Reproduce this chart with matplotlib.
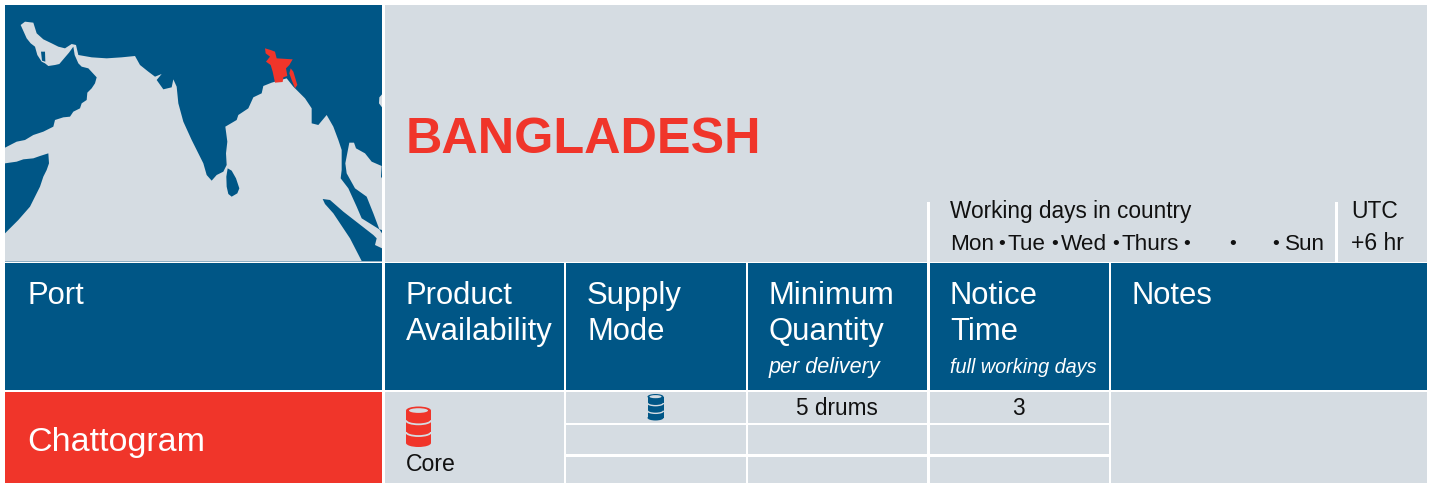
import matplotlib
matplotlib.use("Agg")
import matplotlib.pyplot as plt
from matplotlib.patches import Rectangle, Polygon, Ellipse, Arc

plt.rcParams['font.family'] = ['Liberation Sans', 'DejaVu Sans']

BLUE = '#005686'
LIGHT = '#d5dce2'
RED = '#f0352a'
INK = '#111111'

country = 'BANGLADESH'
port_header = 'Port'
headers = ['Product\nAvailability', 'Supply\nMode', 'Minimum\nQuantity', 'Notice\nTime', 'Notes']
sub_headers = ['', '', 'per delivery', 'full working days', '']
port = 'Chattogram'
product = 'Core'
min_qty = '5 drums'
notice = '3'
working_title = 'Working days in country'
working_days = ['Mon', 'Tue', 'Wed', 'Thurs', '', '', 'Sun']
utc = ['UTC', '+6 hr']

# map outlines (pixels x3)
ocean = [(15,700),(55,660),(90,620),(105,590),(120,560),(130,530),(140,510),(147,490),(145,460),(120,468),(100,475),(70,478),(50,485),(15,490),(15,443),
         (50,425),(75,420),(100,405),(130,395),(160,380),(165,360),(190,352),(210,350),(220,335),(240,325),(245,310),(260,300),(262,278),(275,265),(285,250),(290,232),
         (265,205),(245,200),(235,190),(224,165),(220,140),(207,158),(195,172),(178,192),(165,195),(145,198),(135,190),(125,185),(112,165),(105,140),(92,130),(80,115),(62,75),
         (75,65),(100,68),(110,100),(130,118),(155,130),(175,140),(195,145),(215,132),(228,135),(235,165),(275,172),(320,175),(365,172),(405,168),
         (420,195),(445,215),(465,230),(485,222),(470,240),(490,268),(515,262),(520,238),(530,260),(535,310),
         (550,365),(575,420),(590,450),(610,490),(620,525),(635,542),(650,525),(670,515),(680,495),(678,460),(682,425),
         (676,380),(710,360),(715,345),(745,325),(760,292),(785,280),(790,258),(815,248),(860,235),(880,260),
         (915,295),(935,325),(935,370),(955,375),(980,345),(1000,380),(1015,420),(1025,450),(1025,510),(1022,535),(1045,565),
         (1070,620),(1085,655),(1138,688),(1146,700),(1146,785),(15,785)]
gulf_east = [(1048,428),(1062,428),(1068,445),(1095,460),(1115,485),(1145,498),(1143,530),(1146,535),(1146,690),
             (1138,688),(1120,640),(1100,590),(1065,565),(1040,520),(1036,490)]
sri_lanka = [(683,505),(695,512),(708,535),(718,565),(712,580),(695,590),(685,582),(680,560),(679,530)]
qatar = [(123,155),(135,155),(136,185),(126,182)]
sumatra = [(968,597),(990,600),(1030,635),(1075,670),(1120,705),(1130,715),(1125,735),(1146,745),(1146,783),
           (1085,783),(1050,715),(1000,640),(975,612)]
east_edge = [(1146,283),(1138,292),(1137,310),(1146,322)]
bangladesh = [(795,145),(812,150),(825,155),(830,175),(878,178),(868,195),(858,205),(862,228),(850,232),(848,246),
              (825,248),(818,215),(812,195),(798,185),(810,170),(797,160)]
chittagong = [(872,205),(880,215),(892,255),(885,265),(875,240),(868,220)]

fig = plt.figure(figsize=(14.32, 4.83), dpi=100, facecolor='white')
ax = fig.add_axes([0, 0, 1, 1])
ax.set_xlim(0, 1432)
ax.set_ylim(483, 0)
ax.axis('off')


def box(x0, y0, x1, y1, c, z=1):
    ax.add_patch(Rectangle((x0, y0), x1 - x0, y1 - y0, fc=c, ec='none', zorder=z))


def shape(pts, c, z=3):
    ax.add_patch(Polygon([(x / 3, y / 3) for x, y in pts], closed=True, fc=c, ec='none', zorder=z))


def barrel(x0, y0, x1, y1, c, lw):
    w, h = x1 - x0, y1 - y0
    cx = (x0 + x1) / 2
    e = h * 0.2
    box(x0, y0 + e / 2, x1, y1 - e / 2, c, 3)
    ax.add_patch(Ellipse((cx, y0 + e / 2), w, e, fc=c, ec='none', zorder=3))
    ax.add_patch(Ellipse((cx, y1 - e / 2), w, e, fc=c, ec='none', zorder=3))
    ax.add_patch(Ellipse((cx, y0 + e / 2), w * 0.76, e * 0.58, fc=LIGHT, ec='none', zorder=4))
    for f in (0.34, 0.63):
        ax.add_patch(Arc((cx, y0 + h * f), w, h * 0.2, theta1=0, theta2=180, color=LIGHT, lw=lw, zorder=4))


def label(x, y, s, c=INK, size=16.3, **kw):
    ax.text(x, y, s, color=c, fontsize=size, va='baseline', ha=kw.pop('ha', 'left'), zorder=6, **kw)


# top band
box(5, 5, 382, 262, BLUE)
box(385, 5, 1427, 262, LIGHT)
# header row
for x0, x1 in [(5, 382), (385, 563.5), (566, 745.5), (748, 926.5), (929.5, 1108.5), (1111, 1427)]:
    box(x0, 263, x1, 390, BLUE)
# body
box(5, 392, 382, 483, RED)
box(385, 392, 563.5, 483, LIGHT)
box(1111, 392, 1427, 483, LIGHT)
for x0, x1 in [(566, 745.5), (748, 926.5), (929.5, 1108.5)]:
    for y0, y1 in [(392, 422.5), (425, 454), (457, 483)]:
        box(x0, y0, x1, y1, LIGHT)
# white separators in the band
box(926.5, 202, 929.5, 262, 'white', 2)
box(1335, 202, 1338, 262, 'white', 2)

# map
shape(ocean, LIGHT)
shape(gulf_east, LIGHT)
for s in (sri_lanka, qatar, sumatra):
    shape(s, BLUE, 4)
shape(east_edge, LIGHT, 4)
shape(bangladesh, RED, 5)
shape(chittagong, RED, 5)

# text
label(406, 153, country, RED, 36.3, fontweight='bold')
label(28, 304, port_header, 'white', 22.3)
for x, h in zip([405.5, 587, 768.5, 950, 1131.5], headers):
    for i, line in enumerate(h.split('\n')):
        label(x, 304 + 36 * i, line, 'white', 22.3)
label(769, 373, sub_headers[2], 'white', 15.6, style='italic')
label(950.5, 373, sub_headers[3], 'white', 14.3, style='italic')
label(27.5, 451, port, 'white', 24.5)
barrel(406, 406.5, 431, 447, RED, 1.3)
label(406, 471, product, size=16.6)
barrel(647.5, 394, 663.5, 420.5, BLUE, 1.0)
label(837, 415, min_qty, size=16.3, ha='center')
label(1018, 415, notice, size=16.3, ha='center')

label(950, 218, working_title)
for x, d in zip([950, 1008, 1061, 1122, 0, 0, 1285], working_days):
    if d:
        label(x, 250, d, size=16.2)
for x in [1002, 1055, 1115.5, 1187, 1232.5, 1276]:
    ax.text(x, 244.5, '\u2022', color=INK, fontsize=14, va='center', ha='center', zorder=6)
label(1351, 218, utc[0], size=16.5)
label(1351, 250, utc[1], size=16.5)

fig.savefig('out.png', dpi=100, facecolor='white')
